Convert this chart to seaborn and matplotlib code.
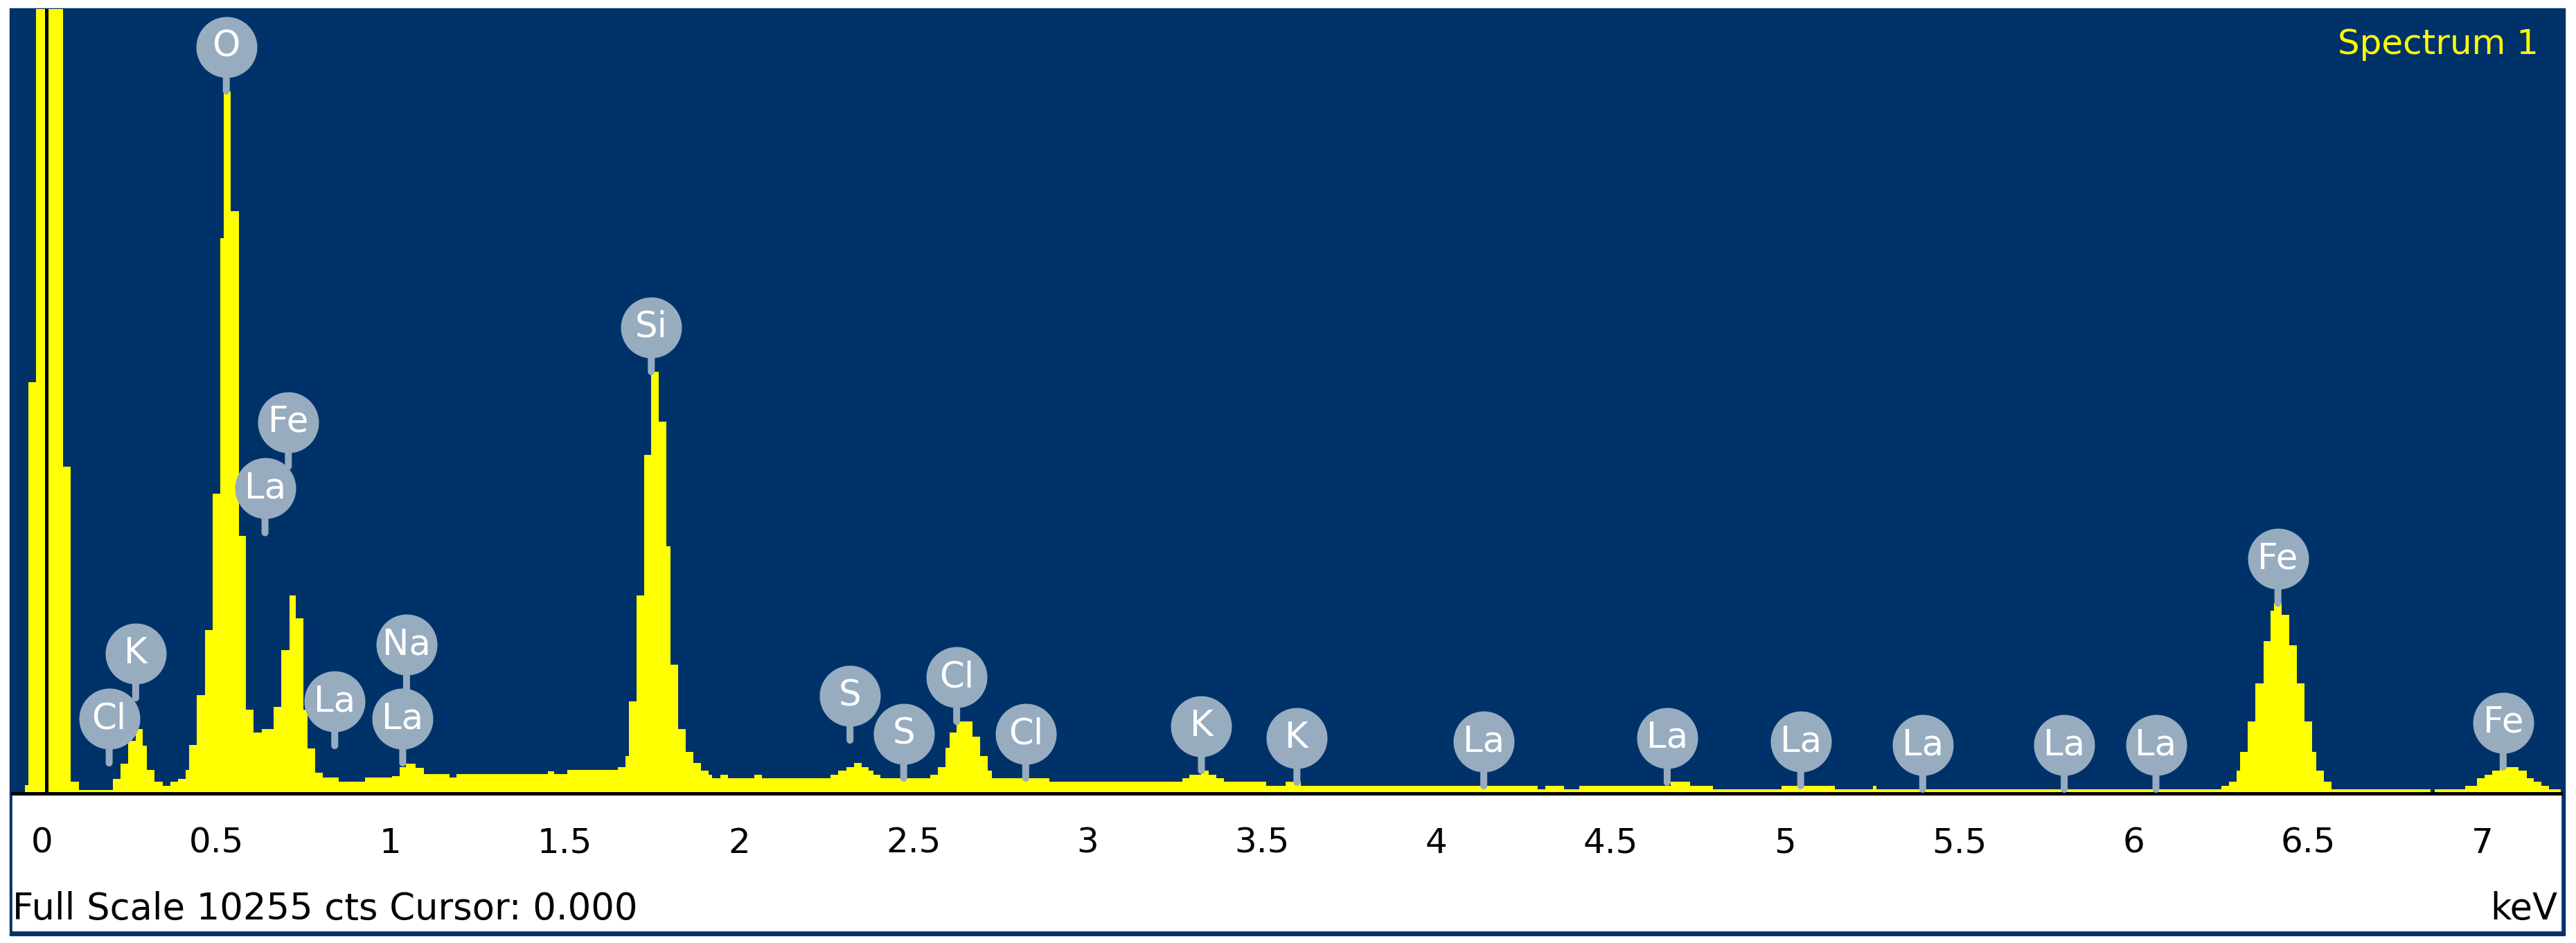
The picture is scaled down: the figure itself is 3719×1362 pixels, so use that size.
import matplotlib
matplotlib.use("Agg")
import matplotlib.pyplot as plt
import seaborn as sns
from matplotlib import transforms, font_manager
from matplotlib.patches import Rectangle
from matplotlib.ticker import FixedLocator, MultipleLocator

# EDS spectrum: step edges (keV) and counts per step
EDGES = [-0.048, -0.038, -0.016, 0.061, 0.083, 0.106, 0.204, 0.225, 0.247, 0.270,
         0.289, 0.302, 0.323, 0.346, 0.368, 0.391, 0.412, 0.422, 0.444, 0.467,
         0.490, 0.511, 0.521, 0.542, 0.565, 0.585, 0.608, 0.631, 0.665, 0.687,
         0.710, 0.729, 0.750, 0.763, 0.783, 0.806, 0.851, 0.927, 1.005, 1.026,
         1.045, 1.071, 1.096, 1.170, 1.189, 1.451, 1.470, 1.508, 1.652, 1.673,
         1.683, 1.705, 1.727, 1.747, 1.770, 1.792, 1.803, 1.825, 1.847, 1.868,
         1.890, 1.913, 1.923, 1.946, 1.968, 2.044, 2.066, 2.263, 2.284, 2.307,
         2.329, 2.351, 2.372, 2.385, 2.406, 2.548, 2.570, 2.592, 2.604, 2.624,
         2.670, 2.691, 2.713, 2.725, 2.889, 3.271, 3.292, 3.326, 3.347, 3.369,
         3.391, 3.512, 3.568, 3.611, 4.290, 4.312, 4.367, 4.410, 4.673, 4.728,
         4.794, 4.991, 5.144, 5.253, 5.263, 6.251, 6.273, 6.295, 6.305, 6.327,
         6.350, 6.372, 6.393, 6.403, 6.425, 6.447, 6.469, 6.491, 6.513, 6.524,
         6.546, 6.568, 6.851, 6.863, 6.952, 6.984, 7.006, 7.028, 7.051, 7.105,
         7.127, 7.148, 7.170, 7.192, 7.225]

COUNTS = [110, 5373, 14000, 4273, 150, 48, 189, 386, 684, 841,
          621, 307, 150, 103, 150, 189, 307, 637, 1289, 2137,
          3920, 7258, 9182, 7611, 3370, 1092, 794, 841, 1132, 1878,
          2585, 2286, 1092, 590, 268, 205, 150, 205, 228, 346,
          386, 338, 252, 205, 252, 291, 252, 307, 346, 491,
          1200, 2587, 4430, 5514, 4862, 3235, 1686, 844, 542, 398,
          295, 244, 196, 244, 196, 244, 196, 244, 295, 346,
          395, 346, 295, 244, 196, 244, 346, 597, 792, 943,
          741, 491, 295, 196, 151, 196, 244, 295, 244, 196,
          151, 99, 151, 99, 51, 99, 51, 99, 151, 99,
          51, 99, 51, 99, 51, 99, 151, 295, 542, 943,
          1440, 1989, 2389, 2489, 2338, 1937, 1440, 943, 542, 295,
          151, 51, 0, 51, 99, 196, 244, 295, 346, 295,
          196, 151, 99, 51]

FULL_SCALE = 10255
CURSOR_KEV = 0.012

# element markers: label, energy (keV), height where the stem starts (counts)
LABEL_TEXT = ["Cl", "K", "O", "La", "Fe", "La", "La", "Na", "Si", "S", "S", "Cl",
              "Cl", "K", "K", "La", "La", "La", "La", "La", "La", "Fe", "Fe"]
LABEL_KEV = [0.193, 0.269, 0.529, 0.640, 0.707, 0.840, 1.035, 1.046, 1.748, 2.318,
             2.472, 2.624, 2.822, 3.326, 3.600, 4.136, 4.662, 5.045, 5.395, 5.801,
             6.064, 6.414, 7.060]
LABEL_BASE = [398, 1248, 9182, 3408, 4276, 624, 398, 1365, 5514, 696,
              199, 940, 199, 298, 145, 99, 145, 99, 54, 54,
              54, 2486, 344]

TICKS = [0, 0.5, 1, 1.5, 2, 2.5, 3, 3.5, 4, 4.5, 5, 5.5, 6, 6.5, 7]
TICK_LABELS = ["0", "0.5", "1", "1.5", "2", "2.5", "3", "3.5", "4", "4.5",
               "5", "5.5", "6", "6.5", "7"]

NAVY = "#00326a"
YELLOW = "#ffff00"
BADGE = "#98acc0"

W, H, DPI = 3719, 1362, 100


def px(p):
    return p * 72.0 / DPI


sns.set_style("white")
names = {f.name for f in font_manager.fontManager.ttflist}
if "Liberation Sans Narrow" in names:
    plt.rcParams["font.family"] = ["Liberation Sans Narrow", "DejaVu Sans"]
    FS_TICK, FS_BADGE, FS_FOOT, FS_TITLE = 43, 44, 45, 45
else:
    plt.rcParams["font.family"] = ["DejaVu Sans"]
    FS_TICK, FS_BADGE, FS_FOOT, FS_TITLE = 36, 37, 38, 36

fig = plt.figure(figsize=(W / DPI, H / DPI), dpi=DPI, facecolor="white")

# window frame and white status panel
fig.add_artist(Rectangle((14 / W, 1 - 1351 / H), (3703 - 14) / W, (1351 - 12) / H,
                         transform=fig.transFigure, color=NAVY, zorder=-2))
fig.add_artist(Rectangle((18 / W, 1 - 1344 / H), (3697 - 18) / W, (1344 - 1146) / H,
                         transform=fig.transFigure, color="white", zorder=-1))

ax = fig.add_axes([18 / W, 1 - 1146 / H, (3697 - 18) / W, (1146 - 13) / H])
ax.set_facecolor(NAVY)

centers = [(a + b) / 2 for a, b in zip(EDGES[:-1], EDGES[1:])]
sns.histplot(x=centers, weights=COUNTS, bins=EDGES, element="step", fill=True,
             color=YELLOW, alpha=1, linewidth=0, ax=ax)

ax.axvline(CURSOR_KEV, color="black", lw=px(5), zorder=3)

# element badges
off = transforms.offset_copy(ax.transData, fig=fig, x=0, y=px(64), units="points")
for k, b in zip(LABEL_KEV, LABEL_BASE):
    ax.annotate("", xy=(k, b), xytext=(0, px(64)), textcoords="offset points",
                arrowprops=dict(arrowstyle="-", color=BADGE, lw=px(10),
                                shrinkA=0, shrinkB=0), zorder=4)
ax.scatter(LABEL_KEV, LABEL_BASE, s=px(88) ** 2, c=BADGE, linewidths=0,
           transform=off, zorder=5, clip_on=False)
for t, k, b in zip(LABEL_TEXT, LABEL_KEV, LABEL_BASE):
    ax.text(k, b, t, transform=off, ha="center", va="center", color="white",
            fontsize=FS_BADGE, zorder=6)

ax.set_xlim(-0.0844, 7.2253)
ax.set_ylim(0, FULL_SCALE)
ax.set_xlabel("")
ax.set_ylabel("")
ax.xaxis.set_major_locator(FixedLocator(TICKS))
ax.set_xticklabels(TICK_LABELS)
ax.xaxis.set_minor_locator(MultipleLocator(0.1))
ax.tick_params(axis="x", which="major", direction="out", length=px(21), width=px(5),
               pad=px(27), labelsize=FS_TICK, colors="black")
ax.tick_params(axis="x", which="minor", direction="out", length=px(11), width=px(5))
ax.tick_params(axis="y", left=False, labelleft=False)
for s in ["top", "left", "right"]:
    ax.spines[s].set_visible(False)
ax.spines["bottom"].set_color("black")
ax.spines["bottom"].set_linewidth(px(5))

ax.text(0.9913, 0.9426, "Spectrum 1", transform=ax.transAxes, ha="right",
        va="baseline", color=YELLOW, fontsize=FS_TITLE)
fig.text(18 / W, 1 - 1328 / H, "Full Scale 10255 cts Cursor: 0.000", ha="left",
         va="baseline", color="black", fontsize=FS_FOOT)
fig.text(3692 / W, 1 - 1328 / H, "keV", ha="right", va="baseline", color="black",
         fontsize=FS_FOOT)

fig.savefig("out.png", dpi=DPI, facecolor="white")
